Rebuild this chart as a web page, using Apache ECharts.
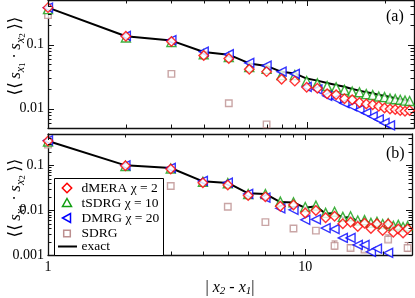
<!DOCTYPE html>
<html><head><meta charset="utf-8">
<script src="https://cdn.jsdelivr.net/npm/echarts@6/dist/echarts.min.js"></script>
<style>html,body{margin:0;padding:0;background:#fff}#c{width:415px;height:298px}</style>
</head><body><div id="c"></div>
<script>
// ---------------- data ----------------
const distances = [1,2,3,4,5,6,7,8,9,10,11,12,13,14,15,16,17,18,19,20,21,22,23,24,25];

// panel (a)
const exactA = [0.38,0.136,0.116,0.077,0.070,0.051,0.0467,0.0377,0.0356,0.0296,0.0275,0.0252,0.0235,0.0221,0.0204,0.0192,0.0181,0.0175,0.0164,0.0159,0.0152,0.0146,0.0141,0.0136,0.0132];
const dmeraA = [0.38,0.136,0.112,0.068,0.061,0.0415,0.038,0.029,0.027,0.0216,0.0209,0.0171,0.0165,0.0143,0.0138,0.0125,0.0119,0.0115,0.0109,0.0103,0.0099,0.0097,0.0094,0.0091,0.0094];
const tsdrgA = [0.36,0.13,0.11,0.071,0.064,0.045,0.042,0.0335,0.0335,0.0271,0.0249,0.0226,0.0216,0.0197,0.0185,0.0181,0.0169,0.0164,0.0155,0.0152,0.0144,0.0141,0.0138,0.0134,0.0132];
const dmrgA  = [0.38,0.138,0.118,0.078,0.071,0.052,0.047,0.038,0.035,0.022,0.020,0.0159,0.0143,0.0122,0.0109,0.0097,0.0086,0.0076,0.0068,0.0060,0.0055,null,null,null,null];
const sdrgA  = [0.29,null,0.035,null,0.0122,null,0.0057,null,null,null,null,null,null,null,null,null,null,null,null,null,null,null,null,null,null];

// panel (b)
const exactB = [0.35,0.1,0.087,0.044,0.0406,0.0237,0.023,0.0152,0.0148,0.0113,0.0123,0.0083,0.0086,0.0068,0.0070,0.0056,0.0057,0.0050,0.0052,0.0047,0.0049,0.0043,0.0045,0.0041,0.0043];
const dmeraB = [0.35,0.098,0.083,0.041,0.0363,0.0212,0.0198,0.0123,0.0130,0.0086,0.0098,0.0068,0.0073,0.0050,0.0054,0.0043,0.0051,0.0039,0.0050,0.0035,0.0049,0.0032,0.0038,0.0031,0.0038];
const tsdrgB = [0.34,0.097,0.085,0.043,0.040,0.023,0.023,0.0155,0.015,0.0118,0.0126,0.0087,0.0092,0.0071,0.0073,0.0059,0.0060,0.0052,0.0055,0.0049,0.0051,0.0045,0.0047,0.0042,0.0044];
const dmrgB  = [0.36,0.1,0.088,0.045,0.041,0.023,0.019,0.011,0.0102,0.0061,0.0062,0.0040,0.0038,0.0024,0.0024,0.00168,0.00168,0.00118,0.00139,null,0.00112,null,null,null,null];
const sdrgB  = [0.29,null,0.0345,null,0.0119,null,0.0054,null,0.0039,null,0.0035,null,0.0016,null,0.00143,null,0.00132,null,null,null,0.0022,null,null,null,0.00143];
const sdrgErrX    = [13,15,17,21,25];
const sdrgErrLow  = [0.00136,0.0013,0.00118,0.0020,0.0012];
const sdrgErrHigh = [0.00205,0.0017,0.0015,0.0028,0.0019];

// axis ticks
const xMajor = [1,10];
const xMinor = [2,3,4,5,6,7,8,9,20];
const yMajorA = [0.01,0.1];
const yMinorA = [0.006,0.007,0.008,0.009,0.02,0.03,0.04,0.05,0.06,0.07,0.08,0.09,0.2,0.3,0.4];
const yMajorB = [0.001,0.01,0.1];
const yMinorB = [0.002,0.003,0.004,0.005,0.006,0.007,0.008,0.009,0.02,0.03,0.04,0.05,0.06,0.07,0.08,0.09,0.2,0.3,0.4];

const names = ['dMERA χ = 2','tSDRG χ = 10','DMRG χ = 20','SDRG','exact'];

// ---------------- chart ----------------
const FONT = 'Liberation Serif';
const RED = '#ff0000', GREEN = '#109e10', BLUE = '#0000ff', BROWN = '#bc8f8f';
const pairs = arr => distances.map((d,i)=>[d, arr[i]]).filter(p => p[1] != null);

function fmt(v){
  const l = Math.log10(v);
  if (Math.abs(l - Math.round(l)) > 1e-6) return '';
  return String(Number(v.toPrecision(6)));
}
const axisLine = {show:true, onZero:false, lineStyle:{color:'#111', width:1.3}};
function xAx(grid, pos, labels){
  return {type:'log', logBase:10, gridIndex:grid, position:pos, min:1, max:26,
    axisLine, axisTick:{show:false}, splitLine:{show:false},
    axisLabel:{show:labels, formatter:fmt, fontFamily:FONT, fontSize:14, color:'#000', margin:5, showMinLabel:true, showMaxLabel:true}};
}
function yAx(grid, pos, min, labels){
  return {type:'log', logBase:10, gridIndex:grid, position:pos, min:min, max:0.5,
    axisLine, axisTick:{show:false}, splitLine:{show:false},
    axisLabel:{show:labels, formatter:fmt, fontFamily:FONT, fontSize:14, color:'#000', margin:4}};
}
function scat(name, arr, xi, yi, sym, size, color, rot){
  return {name, type:'scatter', xAxisIndex:xi, yAxisIndex:yi, data:pairs(arr), symbol:sym, symbolSize:size,
    symbolRotate: rot||0, itemStyle:{color:'#fff', borderColor:color, borderWidth:1.4}, z:3};
}
function lineS(arr, xi, yi){
  return {name:'exact', type:'line', xAxisIndex:xi, yAxisIndex:yi, data:pairs(arr), symbol:'none',
    lineStyle:{color:'#000', width:2}, itemStyle:{color:'#000'}, z:2};
}

const chart = echarts.init(document.getElementById('c'));
const option = {
  animation:false,
  backgroundColor:'#fff',
  grid:[{left:48, top:0, width:366, height:128}, {left:48, top:134, width:366, height:127}],
  xAxis:[xAx(0,'bottom',false), xAx(0,'top',false),
         Object.assign(xAx(1,'bottom',true), {name:'{t|| }{i|x}{s|2}{t| - }{i|x}{s|1}{t||}', nameLocation:'middle', nameGap:24,
            nameTextStyle:{rich:{t:{fontFamily:FONT,fontSize:16,color:'#000',lineHeight:18},
                                 i:{fontFamily:FONT,fontSize:16,fontStyle:'italic',color:'#000',lineHeight:18},
                                 s:{fontFamily:FONT,fontSize:11,fontStyle:'italic',color:'#000',lineHeight:9,verticalAlign:'bottom'}}}}),
         xAx(1,'top',false)],
  yAxis:[yAx(0,'left',0.005,true), yAx(0,'right',0.005,false), yAx(1,'left',0.001,true), yAx(1,'right',0.001,false)],
  series:[
    lineS(exactA,0,0),
    scat(names[3], sdrgA,0,0,'rect',6.5,BROWN),
    scat(names[1], tsdrgA,0,0,'triangle',9,GREEN),
    scat(names[2], dmrgA,0,0,'triangle',9,BLUE,90),
    scat(names[0], dmeraA,0,0,'diamond',9.5,RED),
    lineS(exactB,2,2),
    {type:'custom', xAxisIndex:2, yAxisIndex:2, z:2,
      data: sdrgErrX.map((x,i)=>[x, sdrgErrLow[i], sdrgErrHigh[i]]),
      encode:{x:0, y:[1,2]},
      renderItem:(params, api)=>{
        const x = api.value(0);
        const p1 = api.coord([x, api.value(1)]), p2 = api.coord([x, api.value(2)]);
        const st = {stroke:BROWN, lineWidth:1.2};
        return {type:'group', children:[
          {type:'line', shape:{x1:p1[0],y1:p1[1],x2:p2[0],y2:p2[1]}, style:st},
          {type:'line', shape:{x1:p1[0]-3,y1:p1[1],x2:p1[0]+3,y2:p1[1]}, style:st},
          {type:'line', shape:{x1:p2[0]-3,y1:p2[1],x2:p2[0]+3,y2:p2[1]}, style:st}]};
      }},
    scat(names[3], sdrgB,2,2,'rect',6.5,BROWN),
    scat(names[1], tsdrgB,2,2,'triangle',9,GREEN),
    scat(names[2], dmrgB,2,2,'triangle',9,BLUE,90),
    scat(names[0], dmeraB,2,2,'diamond',9.5,RED)
  ]
};
chart.setOption(option);

// ---------- inward ticks (major + minor) on all four sides ----------
const g = [];
function tickSet(xi, yi, yMaj, yMin, yMinV, yMaxV){
  const xL = chart.convertToPixel({xAxisIndex:xi}, 1);
  const xR = chart.convertToPixel({xAxisIndex:xi}, 26);
  const yB = chart.convertToPixel({yAxisIndex:yi}, yMinV);
  const yT = chart.convertToPixel({yAxisIndex:yi}, yMaxV);
  const st = {stroke:'#111', lineWidth:1};
  const add = (x1,y1,x2,y2)=>g.push({type:'line', silent:true, z:10, shape:{x1,y1,x2,y2}, style:st});
  xMajor.concat(xMinor).forEach(v=>{
    const L = xMajor.includes(v) ? 6 : 3.5;
    const x = Math.round(chart.convertToPixel({xAxisIndex:xi}, v)) + 0.5;
    add(x, yB, x, yB - L); add(x, yT, x, yT + L);
  });
  yMaj.concat(yMin).forEach(v=>{
    const L = yMaj.includes(v) ? 6 : 3.5;
    const y = Math.round(chart.convertToPixel({yAxisIndex:yi}, v)) + 0.5;
    add(xL, y, xL + L, y); add(xR, y, xR - L, y);
  });
}
tickSet(0,0,yMajorA,yMinorA,0.005,0.5);
tickSet(2,2,yMajorB,yMinorB,0.001,0.5);

// panel letters
g.push({type:'text', left:386, top:9, z:20, style:{text:'(a)', fontFamily:FONT, fontSize:16, fill:'#000'}});
g.push({type:'text', left:386, top:146, z:20, style:{text:'(b)', fontFamily:FONT, fontSize:16, fill:'#000'}});

// legend (drawn by hand so that icon shapes keep their aspect)
const LX = 54.5, LY = 178.5, LW = 109, LH = 77;
g.push({type:'rect', z:50, shape:{x:LX, y:LY, width:LW, height:LH}, style:{fill:'#fff', stroke:'#000', lineWidth:1}});
const rowY = [188, 203, 218, 233.5, 246.5];
const ix = 67;
const ist = c => ({fill:'#fff', stroke:c, lineWidth:1.5});
g.push({type:'polygon', z:51, shape:{points:[[ix,rowY[0]-4.7],[ix+4.7,rowY[0]],[ix,rowY[0]+4.7],[ix-4.7,rowY[0]]]}, style:ist(RED)});
g.push({type:'polygon', z:51, shape:{points:[[ix,rowY[1]-4.5],[ix+4.5,rowY[1]+3.5],[ix-4.5,rowY[1]+3.5]]}, style:ist(GREEN)});
g.push({type:'polygon', z:51, shape:{points:[[ix-4.5,rowY[2]],[ix+3.5,rowY[2]-4.5],[ix+3.5,rowY[2]+4.5]]}, style:ist(BLUE)});
g.push({type:'rect', z:51, shape:{x:ix-3.3, y:rowY[3]-3.3, width:6.6, height:6.6}, style:ist(BROWN)});
g.push({type:'line', z:51, shape:{x1:58, y1:rowY[4], x2:77, y2:rowY[4]}, style:{stroke:'#000', lineWidth:2}});
names.forEach((n,i)=>{
  g.push({type:'text', z:52, x:81.5, y:rowY[i], style:{text:n, fontFamily:FONT, fontSize:13.5, fill:'#000', verticalAlign:'middle', align:'left'}});
});

// y-axis titles (rotated)
const yTitle = '{b|⟨⟨} {m|s}{s|x}{ss|1}{m| · s}{s|x}{ss|2} {b|⟩⟩}';
const yRich = {
  b:{fontFamily:'DejaVu Serif', fontSize:17, fill:'#000', lineHeight:22},
  m:{fontFamily:FONT, fontSize:17, fontStyle:'italic', fill:'#000', lineHeight:22},
  s:{fontFamily:FONT, fontSize:12, fontStyle:'italic', fill:'#000', lineHeight:14, verticalAlign:'bottom'},
  ss:{fontFamily:FONT, fontSize:9, fill:'#000', lineHeight:8, verticalAlign:'bottom'}
};
[[16,56],[16,198]].forEach(p=>{
  g.push({type:'text', x:p[0], y:p[1], rotation:Math.PI/2, z:20,
    style:{text:yTitle, rich:yRich, align:'center', verticalAlign:'middle'}});
});
chart.setOption({graphic:g});
</script></body></html>
